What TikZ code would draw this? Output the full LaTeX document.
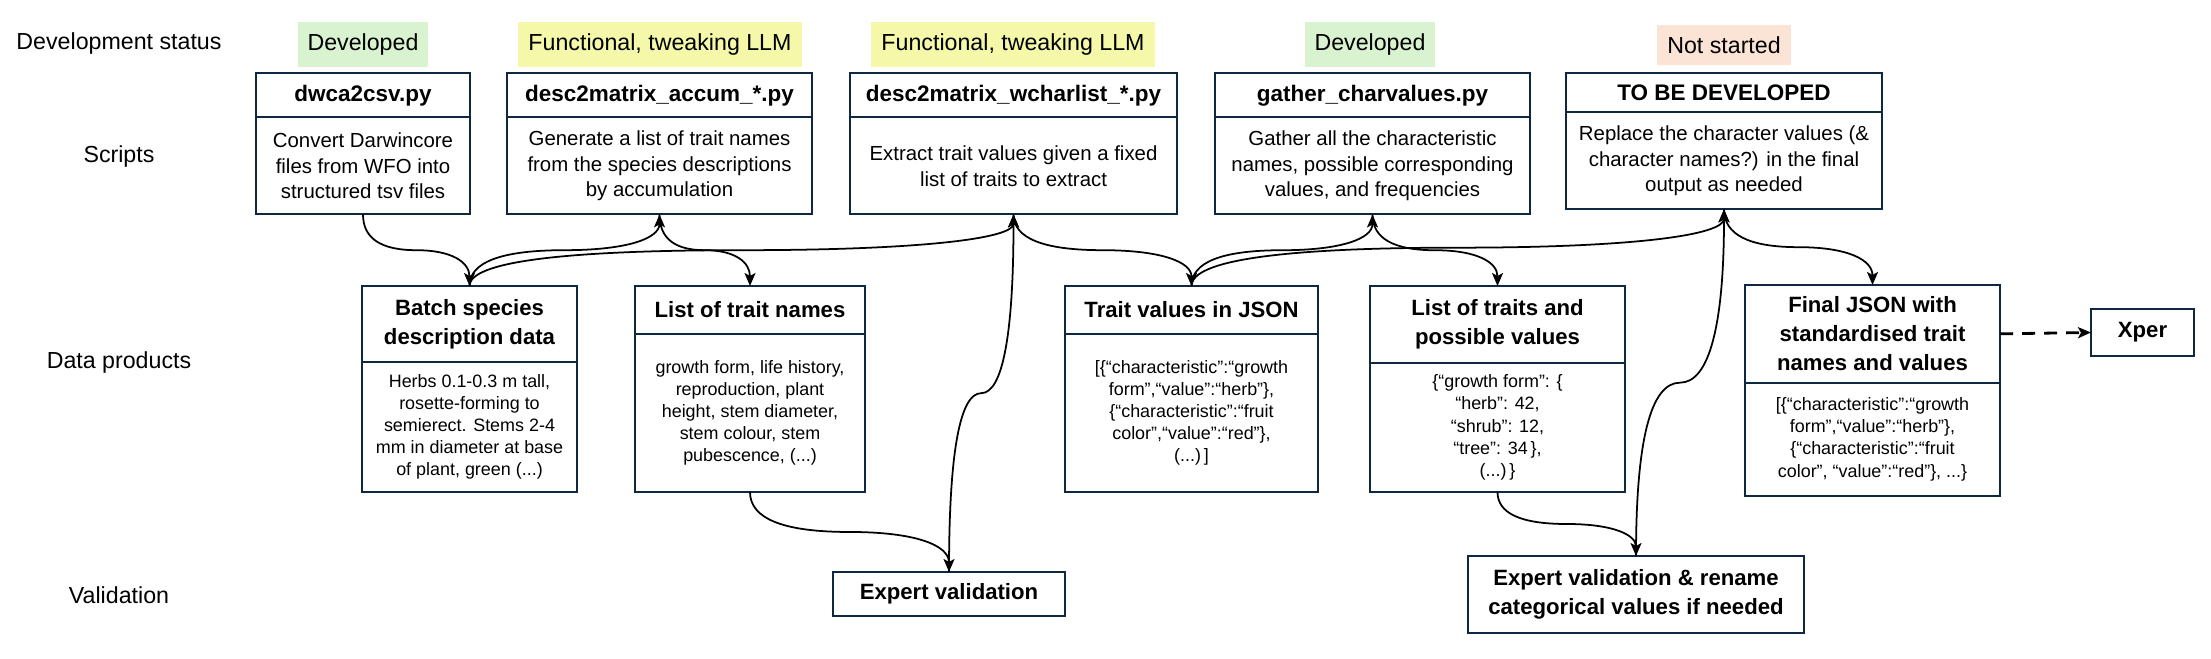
\documentclass[tikz,border=0pt]{standalone}
\usepackage{fontspec}
\setmainfont{Liberation Sans}
\usepackage{tikz}
\usetikzlibrary{arrows.meta}
\usetikzlibrary{calc}
\definecolor{navy}{HTML}{0E2841}
\definecolor{devgreen}{HTML}{D9F2D0}
\definecolor{devyellow}{HTML}{F5F8A8}
\definecolor{devpink}{HTML}{FBE3D6}

\tikzset{
  rowlabel/.style={font=\fontsize{6.6}{8}\selectfont},
  status/.style={font=\fontsize{6.6}{8}\selectfont, inner xsep=0.1cm, minimum height=0.38cm},
  shead/.style={draw=navy, line width=0.02cm, outer sep=0pt, anchor=north, minimum height=0.37cm, font=\bfseries\fontsize{6.4}{8}\selectfont},
  sbody/.style={draw=navy, line width=0.02cm, outer sep=0pt, anchor=north, minimum height=0.97cm, align=center, font=\fontsize{5.8}{7.3}\selectfont},
  dhead/.style={draw=navy, line width=0.02cm, outer sep=0pt, anchor=north, align=center, font=\bfseries\fontsize{6.3}{8.25}\selectfont},
  dbody/.style={draw=navy, line width=0.02cm, outer sep=0pt, anchor=north, align=center, font=\fontsize{5.1}{6.3}\selectfont},
  flow/.style={-{Stealth[length=0.13cm,width=0.11cm,inset=0.03cm]}, line width=0.5pt},
  curvy/.style={to path={let \p1=(\tikztostart), \p2=(\tikztotarget) in
    .. controls (\x1,{\y1+(\y2-\y1)/3}) and ({\x1+(\x2-\x1)/6},{0.5*(\y1+\y2)}) .. ({0.5*(\x1+\x2)},{0.5*(\y1+\y2)})
    .. controls ({\x2-(\x2-\x1)/6},{0.5*(\y1+\y2)}) and (\x2,{\y2-(\y2-\y1)/3}) .. (\tikztotarget)}}
}

\begin{document}
\begin{tikzpicture}

\useasboundingbox (0,0) rectangle (22.11,-6.59);

\node[rowlabel] (rowStatus) at (1.19,-0.44) {Development status};
\node[rowlabel] (rowScripts) at (1.19,-1.57) {Scripts};
\node[rowlabel] (rowData) at (1.19,-3.63) {Data products};
\node[rowlabel] (rowValid) at (1.19,-5.95) {Validation};

\node[status, fill=devgreen] (stDwca) at (3.63,-0.445) {Developed};
\node[status, fill=devyellow] (stAccum) at (6.60,-0.445) {Functional, tweaking LLM};
\node[status, fill=devyellow] (stWchar) at (10.13,-0.445) {Functional, tweaking LLM};
\node[status, fill=devgreen] (stGather) at (13.70,-0.445) {Developed};
\node[status, fill=devpink] (stTbd) at (17.24,-0.45) {Not started};

\node[shead, minimum width=2.14cm] (dwcaH) at (3.63,-0.73) {dwca2csv.py};
\node[sbody, minimum width=2.14cm] (dwca) at (dwcaH.south) {Convert Darwincore\\files from WFO into\\structured tsv files};
\node[shead, minimum width=3.05cm] (accumH) at (6.595,-0.73) {desc2matrix\_accum\_*.py};
\node[sbody, minimum width=3.05cm] (accum) at (accumH.south) {Generate a list of trait names\\from the species descriptions\\by accumulation};
\node[shead, minimum width=3.27cm] (wcharH) at (10.135,-0.73) {desc2matrix\_wcharlist\_*.py};
\node[sbody, minimum width=3.27cm] (wchar) at (wcharH.south) {Extract trait values given a fixed\\list of traits to extract};
\node[shead, minimum width=3.15cm] (gatherH) at (13.725,-0.73) {gather\_charvalues.py};
\node[sbody, minimum width=3.15cm] (gather) at (gatherH.south) {Gather all the characteristic\\names, possible corresponding\\values, and frequencies};
\node[shead, minimum width=3.16cm] (tbdH) at (17.24,-0.73) {TO BE DEVELOPED};
\node[sbody, minimum width=3.16cm] (tbd) at (tbdH.south) {Replace the character values (\&\\character names?) in the final\\output as needed};

\node[dhead, minimum width=2.15cm, minimum height=0.76cm] (batchH) at (4.695,-2.86) {Batch species\\description data};
\node[dbody, minimum width=2.15cm, minimum height=1.30cm] (batch) at (batchH.south) {Herbs 0.1-0.3 m tall,\\rosette-forming to\\semierect. Stems 2-4\\mm in diameter at base\\of plant, green (...)};
\node[dhead, minimum width=2.30cm, minimum height=0.48cm] (namesH) at (7.50,-2.86) {List of trait names};
\node[dbody, minimum width=2.30cm, minimum height=1.58cm] (names) at (namesH.south) {growth form, life history,\\reproduction, plant\\height, stem diameter,\\stem colour, stem\\pubescence, (...)};
\node[dhead, minimum width=2.53cm, minimum height=0.48cm] (jsonH) at (11.915,-2.86) {Trait values in JSON};
\node[dbody, minimum width=2.53cm, minimum height=1.58cm] (json) at (jsonH.south) {[\{“characteristic”:“growth\\form”,“value”:“herb”\},\\\{“characteristic”:“fruit\\color”,“value”:“red”\},\\(...)\,]};
\node[dhead, minimum width=2.55cm, minimum height=0.77cm] (valsH) at (14.975,-2.86) {List of traits and\\possible values};
\node[dbody, minimum width=2.55cm, minimum height=1.29cm] (vals) at (valsH.south) {\{“growth form”: \{\\“herb”: 42,\\“shrub”: 12,\\“tree”: 34\,\},\\(...)\,\}};
\node[dhead, minimum width=2.55cm, minimum height=0.94cm] (finalH) at (18.725,-2.85) {Final JSON with\\standardised trait\\names and values};
\node[dbody, minimum width=2.55cm, minimum height=1.13cm] (final) at (finalH.south) {[\{“characteristic”:“growth\\form”,“value”:“herb”\},\\\{“characteristic”:“fruit\\color”, “value”:“red”\}, ...\}};
\node[dhead, anchor=center, minimum width=1.03cm, minimum height=0.47cm] (xper) at (21.425,-3.325) {Xper};

\node[dhead, anchor=center, minimum width=2.32cm, minimum height=0.36cm] (expertA) at (9.49,-5.94) {Expert validation};
\node[dhead, anchor=center, minimum width=3.36cm, minimum height=0.77cm] (expertB) at (16.36,-5.945) {Expert validation \& rename\\categorical values if needed};

\draw[flow] (dwca.south) to[curvy] (batchH.north);
\draw[flow] (batchH.north) to[curvy] (accum.south);
\draw[flow] (batchH.north) to[curvy] (wchar.south);
\draw[flow] (accum.south) to[curvy] (namesH.north);
\draw[flow] (names.south) to[curvy] (expertA.north);
\draw[flow] (expertA.north) to[curvy] (wchar.south);
\draw[flow] (wchar.south) to[curvy] (jsonH.north);
\draw[flow] (jsonH.north) to[curvy] (gather.south);
\draw[flow] (jsonH.north) to[curvy] (tbd.south);
\draw[flow] (gather.south) to[curvy] (valsH.north);
\draw[flow] (vals.south) to[curvy] (expertB.north);
\draw[flow] (expertB.north) to[curvy] (tbd.south);
\draw[flow] (tbd.south) to[curvy] (finalH.north);
\draw[flow, line width=0.028cm, dash pattern=on 0.13cm off 0.09cm] (finalH.east) -- (xper.west);

\end{tikzpicture}
\end{document}
